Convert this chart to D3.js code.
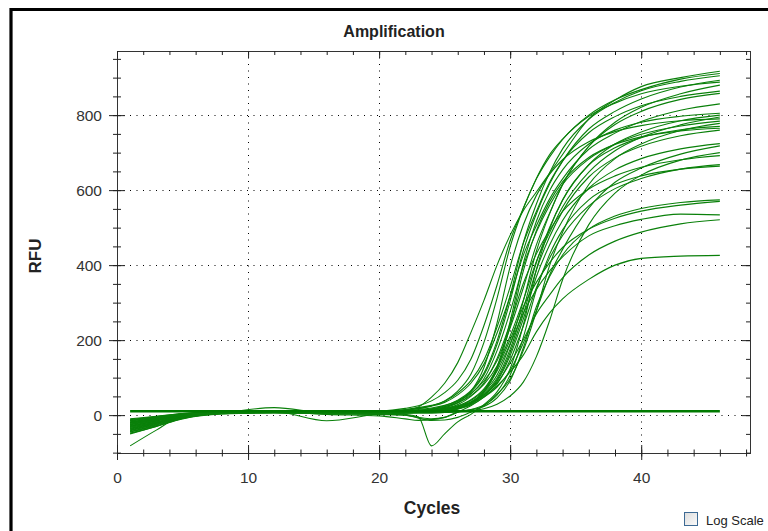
<!DOCTYPE html>
<html>
<head>
<meta charset="utf-8">
<script src="https://cdn.jsdelivr.net/npm/d3@7"></script>
<style>
  body { margin: 0; background: #fff; }
  svg text { font-family: "Liberation Sans", Arial, sans-serif; }
</style>
</head>
<body>
<svg id="chart" width="768" height="531"></svg>
<script>
var cycles = [1, 3, 5, 8, 12, 16, 20, 22, 23, 24, 25, 26, 27, 28, 29, 30, 31, 32, 33, 34, 36, 38, 40, 43, 46];

// one row per well, values follow the cycles above
var wellRFU = [
  [-20, -8, 2, 8, 10, 8, 8, 12, 22, 48, 85, 140, 220, 306, 400, 480, 545, 595, 645, 695, 790, 840, 876, 900, 917],
  [-30, -15, 0, 6, 8, 6, 10, 18, 25, 38, 60, 93, 149, 239, 347, 465, 551, 630, 688, 735, 800, 841, 868, 896, 911],
  [-35, -20, -5, 6, 9, 7, 5, 10, 13, 16, 25, 40, 65, 112, 198, 319, 459, 563, 646, 710, 789, 834, 865, 890, 905],
  [-15, -5, 3, 9, 12, 10, 9, 15, 20, 26, 37, 59, 92, 147, 235, 342, 458, 543, 620, 678, 763, 810, 843, 875, 893],
  [-40, -22, -6, 5, 8, 9, 7, 13, 17, 25, 38, 64, 109, 194, 312, 449, 551, 631, 694, 736, 797, 832, 857, 877, 888],
  [-25, -12, 0, 7, 10, 8, 6, 10, 12, 15, 22, 37, 62, 107, 189, 305, 438, 537, 616, 677, 753, 796, 825, 850, 864],
  [-45, -28, -8, 4, 7, 5, 4, 7, 8, 11, 14, 22, 35, 62, 107, 189, 304, 437, 536, 615, 717, 775, 810, 842, 858],
  [-10, -3, 4, 10, 12, 9, 8, 14, 18, 24, 34, 54, 85, 136, 219, 317, 426, 505, 576, 630, 709, 752, 783, 813, 830],
  [-30, -16, -2, 6, 20, 6, 5, 7, 8, 9, 12, 18, 32, 65, 129, 250, 404, 517, 598, 654, 723, 760, 781, 797, 805],
  [-20, -10, 2, 8, 9, -15, 3, 7, 8, 10, 14, 19, 33, 58, 99, 176, 283, 407, 500, 573, 668, 723, 755, 785, 800],
  [-38, -20, -4, 6, 9, 8, 7, 11, 13, 17, 23, 33, 52, 82, 131, 211, 306, 410, 486, 555, 648, 705, 741, 774, 795],
  [-28, -14, -1, 7, 8, 7, 4, 8, 10, 13, 20, 32, 56, 97, 172, 276, 397, 488, 559, 615, 683, 723, 749, 771, 784],
  [-50, -30, -10, 3, 6, 5, 3, 0, -8, -14, -13, -6, 8, 25, 56, 97, 172, 277, 398, 488, 615, 684, 723, 759, 778],
  [-12, -4, 4, 9, 10, 8, 6, 2, -5, -82, -50, -18, 2, 28, 62, 124, 240, 388, 496, 574, 667, 713, 740, 761, 770],
  [-42, -25, -7, 5, 8, 6, 5, 6, 7, 8, 11, 17, 31, 61, 123, 238, 384, 492, 568, 622, 687, 722, 742, 758, 765],
  [-18, -8, 2, 8, 11, 9, 7, 7, 8, 9, 11, 17, 29, 52, 90, 159, 256, 369, 453, 519, 605, 654, 684, 710, 724],
  [-32, -18, -3, 6, 7, 3, 2, 0, -6, -10, -6, 8, 25, 48, 75, 119, 192, 278, 373, 442, 552, 621, 659, 696, 718],
  [-22, -10, 1, 8, 10, 9, 8, 8, 9, 12, 18, 28, 50, 86, 151, 244, 351, 430, 493, 543, 603, 638, 661, 681, 692],
  [-48, -30, -9, 4, 6, 4, 3, 6, 7, 8, 10, 16, 27, 48, 83, 147, 237, 340, 418, 479, 558, 604, 631, 656, 668],
  [-14, -6, 3, 9, 10, 8, 6, 6, 6, 6, 7, 10, 15, 27, 53, 107, 207, 334, 428, 494, 574, 615, 638, 656, 664],
  [-36, -20, -4, 6, 8, 7, 5, 6, 6, 6, 7, 9, 14, 23, 46, 92, 179, 289, 369, 427, 496, 531, 551, 567, 574],
  [-26, -13, 0, 8, 9, 8, 6, 7, 9, 12, 16, 25, 41, 70, 125, 201, 289, 354, 406, 447, 496, 525, 544, 560, 570],
  [-16, -6, 2, 9, 11, 10, 9, 7, 9, 11, 15, 23, 39, 66, 118, 190, 272, 335, 384, 422, 478, 505, 522, 536, 534],
  [-40, -24, -6, 5, 7, 6, 5, 9, 11, 13, 17, 24, 35, 54, 86, 139, 201, 270, 320, 366, 427, 464, 488, 510, 521],
  [-82, -40, -2, 6, 8, 6, 4, 6, 8, 10, 14, 20, 32, 50, 78, 115, 160, 222, 272, 310, 362, 400, 418, 424, 426],
  [-33, -18, -2, 7, 9, 8, 6, 7, 9, 12, 19, 34, 63, 127, 246, 396, 507, 586, 642, 681, 729, 756, 772, 785, 790],
  [-44, -26, -6, 5, 7, 6, 5, 7, 8, 9, 12, 20, 31, 55, 94, 167, 269, 387, 475, 544, 635, 686, 717, 745, 760],
  [-24, -11, 1, 8, 11, 10, 8, 11, 15, 19, 26, 38, 58, 91, 145, 233, 339, 454, 538, 615, 717, 781, 821, 857, 880],
  [-20, -9, 1, 8, 9, 2, -2, -10, -14, -12, -6, 8, 11, 17, 29, 51, 88, 156, 251, 361, 508, 592, 640, 680, 700]
];

// flat threshold line
var thresholdRFU = 10.5;
var thresholdCycles = [1, 46];

var xMajorTicks = [0, 10, 20, 30, 40];
var yMajorTicks = [0, 200, 400, 600, 800];
var xMinorTicks = d3.range(0, 49, 2);
var yMinorTicks = d3.range(-100, 951, 50);

var margin = {top: 51, right: 18, bottom: 78, left: 117},
    width = 768 - margin.left - margin.right,
    height = 531 - margin.top - margin.bottom;

var svg = d3.select("#chart");

svg.append("rect").attr("width", 768).attr("height", 531).attr("fill", "#fff");

// thick black panel border, runs off the right and bottom edges
svg.append("path")
    .attr("d", "M11,531V9.5H768")
    .attr("fill", "none")
    .attr("stroke", "#000")
    .attr("stroke-width", 3.2);

svg.append("text")
    .attr("x", 394).attr("y", 37)
    .attr("text-anchor", "middle")
    .style("font-size", "16px").style("font-weight", "bold")
    .attr("fill", "#222")
    .text("Amplification");

var g = svg.append("g").attr("transform", "translate(" + margin.left + "," + margin.top + ")");

var x = d3.scaleLinear().domain([0, 48.3]).range([0, width]);
var y = d3.scaleLinear().domain([-101, 971]).range([height, 0]);

// dotted grid
g.append("g").selectAll("line")
    .data(xMajorTicks.filter(function(d) { return d > 0; }))
    .enter().append("line")
    .attr("x1", function(d) { return Math.round(x(d)) + 0.5; })
    .attr("x2", function(d) { return Math.round(x(d)) + 0.5; })
    .attr("y1", 0).attr("y2", height)
    .attr("stroke", "#000").attr("stroke-dasharray", "1,5.5");

g.append("g").selectAll("line")
    .data(yMajorTicks)
    .enter().append("line")
    .attr("y1", function(d) { return Math.round(y(d)) + 0.5; })
    .attr("y2", function(d) { return Math.round(y(d)) + 0.5; })
    .attr("x1", 0).attr("x2", width)
    .attr("stroke", "#000").attr("stroke-dasharray", "1,5.5");

// amplification curves
var line = d3.line()
    .x(function(d, i) { return x(cycles[i]); })
    .y(function(d) { return y(d); })
    .curve(d3.curveMonotoneX);

g.append("g").selectAll("path")
    .data(wellRFU)
    .enter().append("path")
    .attr("d", line)
    .attr("fill", "none")
    .attr("stroke", "#0a800a")
    .attr("stroke-width", 1.1);

g.append("line")
    .attr("x1", x(thresholdCycles[0])).attr("x2", x(thresholdCycles[1]))
    .attr("y1", y(thresholdRFU)).attr("y2", y(thresholdRFU))
    .attr("stroke", "#007a00").attr("stroke-width", 2.6);

// frame and ticks
function styleAxis(sel) {
    sel.selectAll(".domain").remove();
    sel.selectAll("line").attr("stroke", "#222");
    sel.selectAll("text").attr("fill", "#333").style("font-size", "15.5px");
}

g.append("rect")
    .attr("x", 0.5).attr("y", 0.5)
    .attr("width", width).attr("height", height)
    .attr("fill", "none").attr("stroke", "#333");

// bottom: ticks cross the axis line
g.append("g").attr("transform", "translate(0," + height + ")")
    .call(d3.axisBottom(x).tickValues(xMinorTicks).tickSize(3.5).tickFormat(""))
    .call(styleAxis)
    .selectAll("line").attr("y1", -3.5);

g.append("g").attr("transform", "translate(0," + height + ")")
    .call(d3.axisBottom(x).tickValues(xMajorTicks).tickSize(7).tickPadding(12).tickFormat(d3.format("d")))
    .call(styleAxis)
    .selectAll("line").attr("y1", -8);

g.append("g")
    .call(d3.axisLeft(y).tickValues(yMinorTicks).tickSize(4).tickFormat(""))
    .call(styleAxis)
    .selectAll("line").attr("x1", 4);

g.append("g")
    .call(d3.axisLeft(y).tickValues(yMajorTicks).tickSize(8).tickPadding(7).tickFormat(d3.format("d")))
    .call(styleAxis)
    .selectAll("line").attr("x1", 8);

// top and right: inward ticks
g.append("g")
    .call(d3.axisTop(x).tickValues(xMinorTicks).tickSize(-4).tickFormat(""))
    .call(styleAxis);
g.append("g")
    .call(d3.axisTop(x).tickValues(xMajorTicks).tickSize(-7).tickFormat(""))
    .call(styleAxis);
g.append("g").attr("transform", "translate(" + width + ",0)")
    .call(d3.axisRight(y).tickValues(yMinorTicks).tickSize(-4).tickFormat(""))
    .call(styleAxis);
g.append("g").attr("transform", "translate(" + width + ",0)")
    .call(d3.axisRight(y).tickValues(yMajorTicks).tickSize(-8).tickFormat(""))
    .call(styleAxis);

// axis titles
svg.append("text")
    .attr("x", 432).attr("y", 514)
    .attr("text-anchor", "middle")
    .style("font-size", "17.5px").style("font-weight", "bold")
    .attr("fill", "#222")
    .text("Cycles");

svg.append("text")
    .attr("transform", "translate(41,256) rotate(-90)")
    .attr("text-anchor", "middle")
    .style("font-size", "17px").style("font-weight", "bold")
    .attr("fill", "#222")
    .text("RFU");

// Log Scale checkbox
var grad = svg.append("defs").append("linearGradient")
    .attr("id", "boxFill").attr("x1", 0).attr("y1", 0).attr("x2", 1).attr("y2", 1);
grad.append("stop").attr("offset", "0%").attr("stop-color", "#dcdcdc");
grad.append("stop").attr("offset", "100%").attr("stop-color", "#fbfbfb");

svg.append("rect")
    .attr("x", 684.5).attr("y", 512.5).attr("width", 13).attr("height", 13)
    .attr("fill", "url(#boxFill)")
    .attr("stroke", "#3d6a94");

svg.append("text")
    .attr("x", 706).attr("y", 525)
    .style("font-size", "13px")
    .attr("fill", "#222")
    .text("Log Scale");
</script>
</body>
</html>
